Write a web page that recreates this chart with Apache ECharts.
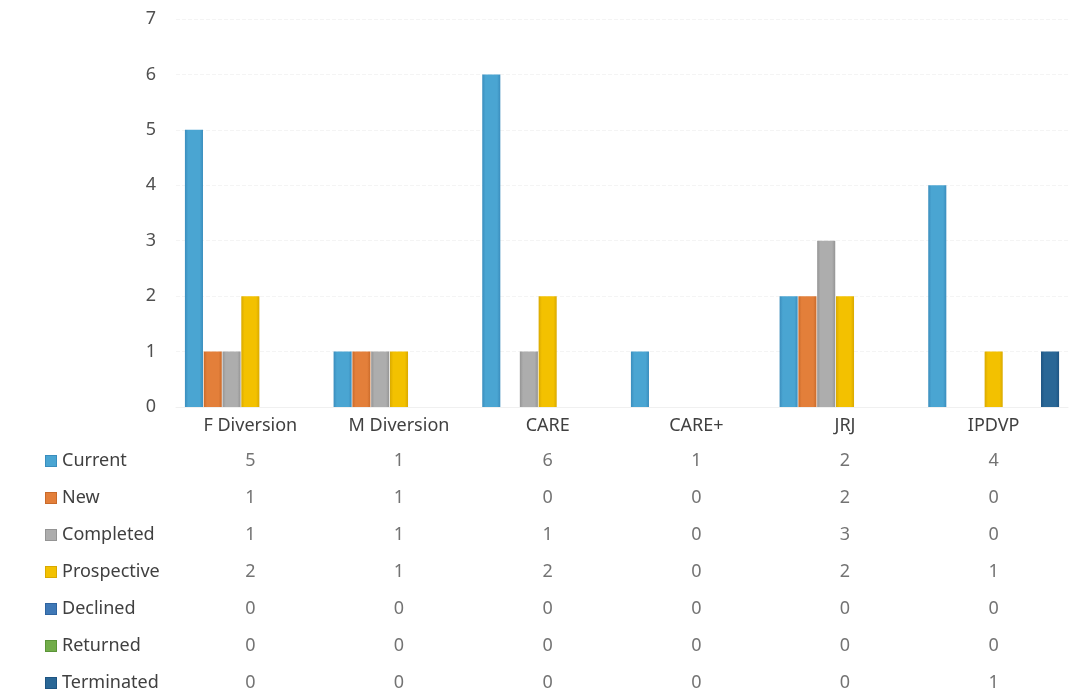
<!DOCTYPE html>
<html>
<head>
<meta charset="utf-8">
<script src="https://cdn.jsdelivr.net/npm/echarts@6/dist/echarts.min.js"></script>
<style>
  html, body { margin: 0; padding: 0; background: #fff; }
  #chart { width: 1078px; height: 698px; }
</style>
</head>
<body>
<div id="chart"></div>
<script>
// Program categories and case counts per status
const categories = ['F Diversion', 'M Diversion', 'CARE', 'CARE+', 'JRJ', 'IPDVP'];
const seriesNames = ['Current', 'New', 'Completed', 'Prospective', 'Declined', 'Returned', 'Terminated'];
const current     = [5, 1, 6, 1, 2, 4];
const newCases    = [1, 1, 0, 0, 2, 0];
const completed   = [1, 1, 1, 0, 3, 0];
const prospective = [2, 1, 2, 0, 2, 1];
const declined    = [0, 0, 0, 0, 0, 0];
const returned    = [0, 0, 0, 0, 0, 0];
const terminated  = [0, 0, 0, 0, 0, 1];
const yTicks = [0, 1, 2, 3, 4, 5, 6, 7];

const seriesValues = [current, newCases, completed, prospective, declined, returned, terminated];
const colors = ['#4aa5d2', '#e37f3a', '#adadad', '#f3c100', '#3f78b6', '#72ad4a', '#2a6796'];
const edges  = ['#3a8dbd', '#c96a2a', '#949494', '#d9a900', '#2f64a0', '#5b9538', '#1e5482'];

const FONT = 'Noto Sans';

function barFill(i) {
  return new echarts.graphic.LinearGradient(0, 0, 1, 0, [
    { offset: 0, color: edges[i] },
    { offset: 0.18, color: colors[i] },
    { offset: 0.82, color: colors[i] },
    { offset: 1, color: edges[i] }
  ]);
}

// Data table cells: one label per (category, status)
const cellData = [];
seriesValues.forEach((vals, r) => {
  vals.forEach((v, c) => cellData.push([c, r, v]));
});

// Row headers with coloured key squares
const rich = { t: { fontFamily: FONT, fontSize: 18, color: '#404040', padding: [0, 0, 0, 6] } };
colors.forEach((c, i) => {
  rich['k' + i] = { width: 10, height: 10, backgroundColor: c, borderColor: edges[i], borderWidth: 1 };
});

const chart = echarts.init(document.getElementById('chart'), null, { renderer: 'canvas' });
chart.setOption({
  backgroundColor: '#ffffff',
  animation: false,
  grid: [
    { left: 176, right: 10, top: 19, height: 388 },
    // table rows sit on the ticks of a non-padded category axis
    { left: 176, right: 10, top: 461, height: 222 }
  ],
  xAxis: [
    {
      type: 'category', gridIndex: 0, data: categories,
      axisLine: { show: true, lineStyle: { color: '#f0f0f0' } },
      axisTick: { show: false },
      axisLabel: { margin: 10, fontFamily: FONT, fontSize: 18, color: '#404040' }
    },
    {
      type: 'category', gridIndex: 1, data: categories,
      axisLine: { show: false }, axisTick: { show: false }, axisLabel: { show: false }
    }
  ],
  yAxis: [
    {
      type: 'value', gridIndex: 0, min: yTicks[0], max: yTicks[yTicks.length - 1], interval: 1,
      axisLine: { show: false }, axisTick: { show: false },
      axisLabel: { margin: 20, fontFamily: FONT, fontSize: 18, color: '#505050' },
      splitLine: { lineStyle: { color: '#f4f4f4', type: 'dashed' } }
    },
    {
      type: 'category', gridIndex: 1, data: seriesNames, inverse: true, boundaryGap: false,
      axisLine: { show: false }, axisTick: { show: false },
      splitLine: { show: false },
      axisLabel: {
        align: 'left', margin: 130,
        formatter: (v, i) => '{k' + i + '|}{t|' + v + '}',
        rich: rich
      }
    }
  ],
  series: seriesNames.map((name, i) => ({
    name: name,
    type: 'bar',
    xAxisIndex: 0, yAxisIndex: 0,
    data: seriesValues[i],
    barCategoryGap: '12%',
    barGap: '4%',
    itemStyle: { color: barFill(i) }
  })).concat([{
    type: 'scatter',
    xAxisIndex: 1, yAxisIndex: 1,
    symbolSize: 0,
    data: cellData,
    label: {
      show: true, position: 'inside',
      formatter: p => String(p.value[2]),
      fontFamily: FONT, fontSize: 18, color: '#505050'
    }
  }])
});
</script>
</body>
</html>
